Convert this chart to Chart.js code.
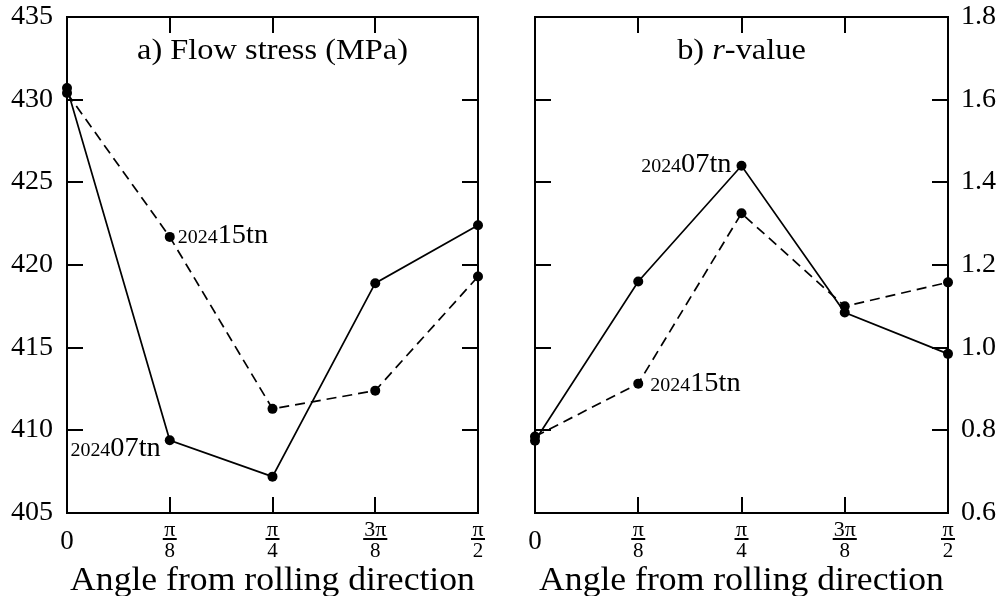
<!DOCTYPE html>
<html>
<head>
<meta charset="utf-8">
<script src="https://cdn.jsdelivr.net/npm/chart.js@4"></script>
<style>
html, body { margin: 0; padding: 0; background: #fff; }
#wrap { position: relative; width: 1002px; height: 596px; }
.pane { position: absolute; top: 0; width: 501px; height: 596px; }
</style>
</head>
<body>
<div id="wrap">
  <div class="pane" style="left:0"><canvas id="left" width="501" height="596"></canvas></div>
  <div class="pane" style="left:501px"><canvas id="right" width="501" height="596"></canvas></div>
</div>
<script>
// angle in units of pi/8
const angles = [0, 1, 2, 3, 4];
const angleLabels = [["0"], ["π", "8"], ["π", "4"], ["3π", "8"], ["π", "2"]];

const stress07 = [430.7, 409.4, 407.2, 418.9, 422.4];
const stress15 = [430.4, 421.7, 411.3, 412.4, 419.3];
const r07 = [0.775, 1.16, 1.44, 1.085, 0.985];
const r15 = [0.785, 0.913, 1.325, 1.10, 1.158];

const stressTicks = [405, 410, 415, 420, 425, 430, 435];
const rTicks = [0.6, 0.8, 1.0, 1.2, 1.4, 1.6, 1.8];

const SERIF = '"Liberation Serif", "DejaVu Serif", serif';

function pts(ys) {
  return angles.map((a, i) => ({ x: a, y: ys[i] }));
}

// text runs: [[text, font], ...] drawn with a slight horizontal stretch
function runs(ctx, parts, x, y, align, hs) {
  let w = 0;
  parts.forEach(p => { ctx.font = p[1]; w += ctx.measureText(p[0]).width; });
  w *= hs;
  let x0 = align === 'center' ? x - w / 2 : align === 'right' ? x - w : x;
  ctx.save();
  ctx.textAlign = 'left';
  ctx.translate(x0, y);
  ctx.scale(hs, 1);
  let cx = 0;
  parts.forEach(p => {
    ctx.font = p[1];
    ctx.fillText(p[0], cx, 0);
    cx += ctx.measureText(p[0]).width;
  });
  ctx.restore();
}

// draws frame, inward ticks, tick labels, titles and point labels
const framePlugin = {
  id: 'frame',
  afterDraw(chart, args, opts) {
    const ctx = chart.ctx;
    const a = chart.chartArea;
    const xs = chart.scales.x, ys = chart.scales.y;
    const tl = 16;
    ctx.save();
    ctx.strokeStyle = '#000';
    ctx.fillStyle = '#000';
    ctx.lineWidth = 2;
    ctx.strokeRect(a.left, a.top, a.right - a.left, a.bottom - a.top);

    ctx.beginPath();
    opts.yTicks.forEach(v => {
      const y = Math.round(ys.getPixelForValue(v));
      ctx.moveTo(a.left, y); ctx.lineTo(a.left + tl, y);
      ctx.moveTo(a.right, y); ctx.lineTo(a.right - tl, y);
    });
    angles.forEach(v => {
      const x = Math.round(xs.getPixelForValue(v));
      ctx.moveTo(x, a.bottom); ctx.lineTo(x, a.bottom - tl);
      ctx.moveTo(x, a.top); ctx.lineTo(x, a.top + tl);
    });
    ctx.stroke();

    // y labels
    ctx.textBaseline = 'middle';
    opts.yTicks.forEach(v => {
      const y = ys.getPixelForValue(v);
      const f = '27px ' + SERIF;
      if (opts.ySide === 'left') runs(ctx, [[opts.yFmt(v), f]], a.left - 14, y, 'right', 1.04);
      else runs(ctx, [[opts.yFmt(v), f]], a.right + 13, y, 'left', 1.04);
    });

    // x labels as fractions
    ctx.textAlign = 'center';
    angles.forEach((v, i) => {
      const x = xs.getPixelForValue(v);
      const lab = angleLabels[i];
      if (lab.length === 1) {
        ctx.font = '27px ' + SERIF;
        ctx.fillText(lab[0], x, a.bottom + 29);
      } else {
        ctx.font = '22px ' + SERIF;
        ctx.fillText(lab[0], x, a.bottom + 17);
        ctx.font = '21px ' + SERIF;
        ctx.fillText(lab[1], x, a.bottom + 38);
        ctx.font = '22px ' + SERIF;
        const w = Math.max(ctx.measureText(lab[0]).width, 12) + 2;
        ctx.fillRect(x - w / 2, a.bottom + 25, w, 2);
      }
    });

    // axis title
    const cx = (a.left + a.right) / 2;
    runs(ctx, [['Angle from rolling direction', '33px ' + SERIF]], cx, a.bottom + 68, 'center', 1.08);

    // panel title
    const tf = '30px ' + SERIF;
    runs(ctx, opts.title.map(p => [p[0], (p[1] ? 'italic ' : '') + tf]), cx, a.top + 34, 'center', 1.08);

    // point labels
    ctx.textBaseline = 'alphabetic';
    opts.tags.forEach(t => {
      const el = chart.getDatasetMeta(t.ds).data[t.idx];
      runs(ctx, [[t.small, '19px ' + SERIF], [t.big, '27px ' + SERIF]],
        el.x + t.dx, el.y + t.dy, t.align, 1.05);
    });
    ctx.restore();
  }
};

function makeChart(id, d07, d15, yMin, yMax, pad, plugOpts) {
  return new Chart(document.getElementById(id), {
    type: 'line',
    data: {
      datasets: [
        {
          label: '202407tn', data: pts(d07),
          borderColor: '#000', borderWidth: 1.7,
          pointRadius: 5, pointBackgroundColor: '#000', pointBorderWidth: 0,
          tension: 0, clip: false
        },
        {
          label: '202415tn', data: pts(d15),
          borderColor: '#000', borderWidth: 1.7, borderDash: [10, 6],
          pointRadius: 5, pointBackgroundColor: '#000', pointBorderWidth: 0,
          tension: 0, clip: false
        }
      ]
    },
    options: {
      responsive: false,
      animation: false,
      devicePixelRatio: 1,
      layout: { padding: pad },
      plugins: { legend: { display: false }, tooltip: { enabled: false }, frame: plugOpts },
      scales: {
        x: { type: 'linear', min: 0, max: 4, display: false },
        y: { type: 'linear', min: yMin, max: yMax, display: false }
      }
    },
    plugins: [framePlugin]
  });
}

makeChart('left', stress07, stress15, 405, 435,
  { left: 67, right: 23, top: 17, bottom: 83 },
  {
    yTicks: stressTicks, yFmt: v => String(v), ySide: 'left',
    title: [['a) Flow stress (MPa)', false]],
    tags: [
      { ds: 0, idx: 1, small: '2024', big: '07tn', align: 'right', dx: -9, dy: 16 },
      { ds: 1, idx: 1, small: '2024', big: '15tn', align: 'left', dx: 8, dy: 6 }
    ]
  });

makeChart('right', r07, r15, 0.6, 1.8,
  { left: 34, right: 54, top: 17, bottom: 83 },
  {
    yTicks: rTicks, yFmt: v => v.toFixed(1), ySide: 'right',
    title: [['b) ', false], ['r', true], ['-value', false]],
    tags: [
      { ds: 0, idx: 2, small: '2024', big: '07tn', align: 'right', dx: -10, dy: 6 },
      { ds: 1, idx: 1, small: '2024', big: '15tn', align: 'left', dx: 12, dy: 7 }
    ]
  });
</script>
</body>
</html>
